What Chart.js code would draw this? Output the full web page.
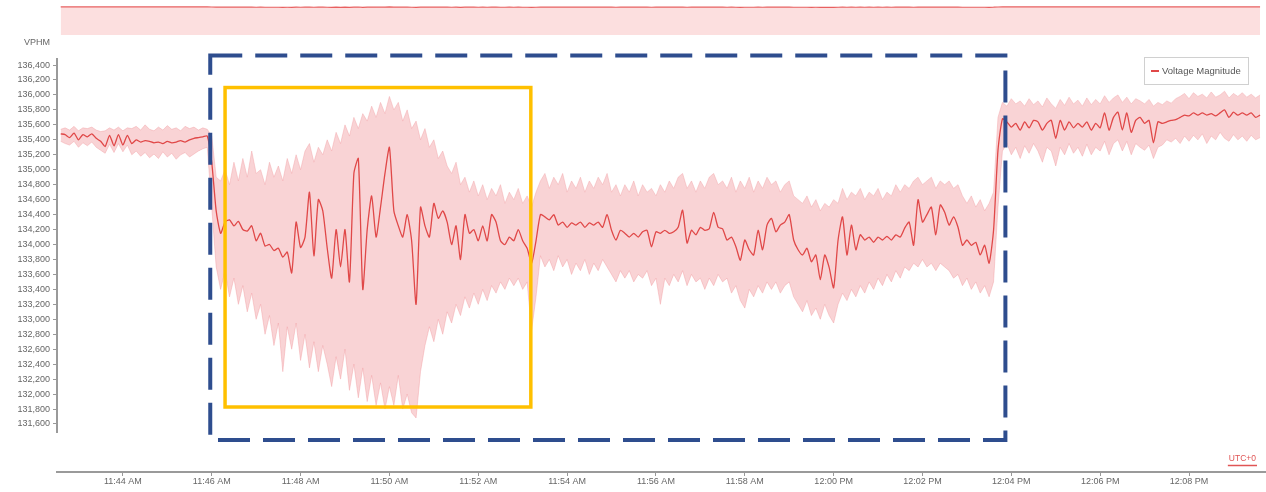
<!DOCTYPE html>
<html><head><meta charset="utf-8">
<script src="https://cdn.jsdelivr.net/npm/chart.js@4.4.1/dist/chart.umd.min.js"></script>
<style>
html,body{margin:0;padding:0;background:#fff;}
#wrap{position:relative;width:1266px;height:492px;overflow:hidden;background:#fff;}
#main{position:absolute;left:0;top:0;}
#nav{position:absolute;left:0;top:0;}
</style></head><body>
<div id="wrap"><canvas id="main" width="1266" height="492"></canvas><canvas id="nav" width="1266" height="42"></canvas></div>
<script>
// ---------- data ----------
const startTime = '11:42:36';
const stepSeconds = 6;
const axisStart = '11:42:31';
const axisEnd = '12:09:44';
const seriesLabel = 'Voltage Magnitude';
const yAxisTitle = 'VPHM';
const timezoneLabel = 'UTC+0';
const yTickValues = [131600,131800,132000,132200,132400,132600,132800,133000,133200,133400,133600,133800,134000,134200,134400,134600,134800,135000,135200,135400,135600,135800,136000,136200,136400];
const yRange = [130958, 136494];
const yAxisLineEnd = 131480;

const voltageMean = [
135480,135470,135430,135490,135400,135470,135440,135480,135420,135380,
135310,135460,135320,135470,135330,135460,135350,135400,135370,135390,
135380,135360,135370,135350,135380,135360,135370,135390,135370,135400,
135420,135430,135440,135450,135100,134450,134150,134300,134330,134250,
134310,134200,134180,134250,134050,134150,133980,134000,133920,133950,
133830,133900,133620,134300,133960,134100,134700,133850,134600,134450,
133950,133550,134200,133700,134200,133500,134950,135150,133400,134200,
134650,134100,134500,134950,135300,134450,134250,134100,134400,134050,
133200,134500,134250,134100,134550,134350,134450,134300,134000,134250,
133800,134400,134150,134200,134050,134250,134050,134400,134300,134050,
134000,134100,134050,134200,134050,133950,133750,134050,134400,134370,
134330,134400,134260,134300,134230,134290,134260,134300,134230,134290,
134260,134300,134230,134400,134190,134060,134190,134150,134100,134150,
134100,134170,134190,133970,134170,134150,134190,134150,134170,134230,
134460,134020,134190,134130,134230,134190,134210,134430,134230,134210,
134060,134100,133970,133790,134060,133930,133860,134190,133930,134260,
134350,134170,134260,134300,134400,134060,133930,133860,133950,133770,
133860,133530,133860,133690,133420,134060,134370,133860,134260,133930,
134130,134060,134100,134030,134100,134060,134110,134060,134130,134100,
134220,134300,133990,134600,134300,134400,134500,134130,134530,134430,
134260,134370,134230,133990,134060,133990,134030,133860,133990,133750,
134190,135260,135680,135640,135570,135620,135530,135640,135560,135660,
135640,135530,135620,135660,135420,135660,135530,135640,135560,135620,
135570,135640,135530,135620,135560,135760,135530,135700,135770,135530,
135760,135500,135660,135700,135620,135660,135360,135640,135620,135640,
135660,135670,135700,135730,135720,135760,135730,135760,135730,135750,
135720,135760,135800,135700,135770,135730,135760,135730,135760,135700,135730
];
const voltageMax = [
135540,135560,135530,135580,135520,135560,135550,135570,135530,135510,
135520,135560,135530,135570,135520,135560,135550,135580,135530,135600,
135540,135520,135570,135530,135590,135540,135560,135520,135580,135550,
135570,135530,135560,135540,135450,134900,134850,135000,134800,135100,
134850,135150,134900,135250,134950,135000,134800,135100,134900,135050,
134850,135150,134950,135200,135000,135250,135350,135100,135300,135200,
135400,135250,135500,135350,135600,135450,135700,135550,135750,135650,
135850,135700,135900,135750,135980,135800,135900,135650,135800,135550,
135650,135400,135550,135300,135400,135150,135250,135050,134950,135100,
134800,134900,134700,134850,134650,134800,134600,134750,134650,134800,
134550,134700,134600,134750,134550,134650,134500,134700,134850,134950,
134750,134900,134800,134950,134700,134850,134750,134900,134700,134850,
134750,134900,134800,134950,134700,134800,134650,134800,134700,134850,
134650,134800,134700,134750,134650,134800,134700,134850,134750,134900,
134950,134750,134850,134700,134850,134750,134900,134950,134800,134850,
134750,134900,134700,134850,134750,134900,134700,134850,134750,134900,
134800,134850,134700,134800,134850,134650,134600,134550,134650,134500,
134600,134450,134550,134500,134600,134550,134750,134600,134700,134650,
134750,134600,134700,134650,134750,134600,134700,134650,134800,134700,
134800,134750,134850,134900,134800,134850,134900,134750,134850,134800,
134850,134750,134800,134650,134550,134650,134500,134600,134450,134550,
134700,135700,135900,135850,135950,135880,135920,135850,135950,135870,
135920,135840,135960,135880,135820,135940,135860,135970,135880,135930,
135850,135960,135870,135940,135880,135990,135900,135960,136000,135900,
135970,135880,135950,135920,135880,135940,135850,135900,135870,135920,
135890,135950,135980,136020,135950,136030,135980,136010,135960,136040,
135970,136000,136050,135960,136020,135980,136030,135970,136010,135960,136000
];
const voltageMin = [
135380,135350,135330,135380,135300,135360,135320,135370,135300,135260,
135220,135340,135230,135350,135240,135330,135200,135250,135180,135230,
135160,135210,135150,135240,135170,135220,135140,135200,135230,135170,
135210,135250,135280,135300,134500,133700,133400,133650,133300,133550,
133200,133450,133100,133350,133000,133200,132800,133050,132650,132950,
132300,132900,132600,132950,132450,132800,132350,132700,132300,132650,
132400,132100,132500,132200,132600,132050,132400,131950,132350,131900,
132250,131850,132150,131800,132100,131850,132250,131800,132000,131750,
131680,132300,132650,132900,132700,133000,132800,133100,132950,133200,
133050,133300,133150,133350,133200,133400,133250,133450,133350,133500,
133400,133550,133450,133550,133400,133500,132850,133300,133850,133700,
133800,133650,133850,133700,133800,133600,133750,133650,133800,133600,
133750,133650,133800,133700,133600,133500,133650,133550,133650,133500,
133600,133550,133650,133450,133550,133200,133550,133450,133600,133500,
133650,133450,133600,133500,133550,133400,133550,133450,133600,133500,
133550,133350,133450,133250,133150,133400,133300,133450,133350,133500,
133400,133500,133350,133450,133500,133300,133200,133100,133250,133050,
133150,133000,133200,133050,132950,133200,133350,133250,133400,133300,
133450,133350,133500,133400,133550,133450,133600,133500,133650,133550,
133700,133650,133750,133700,133800,133700,133750,133650,133750,133700,
133650,133550,133600,133450,133550,133400,133500,133350,133450,133300,
133500,134500,135250,135350,135200,135300,135150,135320,135220,135350,
135250,135100,135300,135250,135050,135300,135200,135350,135220,135300,
135180,135340,135200,135300,135250,135380,135200,135350,135400,135250,
135380,135200,135350,135300,135260,135330,135150,135300,135330,135400,
135370,135420,135350,135450,135380,135460,135400,135480,135350,135450,
135400,135500,135420,135380,135470,135400,135450,135380,135460,135400,135430
];
// highlighted regions (data coordinates)
const blueBox = {from:'11:45:58', to:'12:03:52', top:136527, bottom:131386};
const yellowBox = {from:'11:46:18', to:'11:53:11', top:136099, bottom:131827};

// ---------- helpers ----------
function toMin(s){const p=s.split(':').map(Number);return p[0]*60+p[1]+(p[2]||0)/60;}
function fmtTime(v){const h=Math.floor(v/60+1e-9);const m=Math.round(v-h*60);const ap=h>=12?'PM':'AM';const h12=(h%12)||12;return h12+':'+String(m).padStart(2,'0')+' '+ap;}
const t0=toMin(startTime);
const xMin=toMin(axisStart), xMax=toMin(axisEnd);
const pts=a=>a.map((v,i)=>({x:t0+i*stepSeconds/60,y:v}));
const FONT="'Liberation Sans', Arial, sans-serif";
Chart.defaults.font.family=FONT;
const LINE='#E04848';

const overlay={
  id:'overlay',
  afterDraw(chart){
    const ctx=chart.ctx, ca=chart.chartArea, xs=chart.scales.x, ys=chart.scales.y;
    ctx.save();
    // y axis line
    ctx.strokeStyle='#9a9a9a'; ctx.lineWidth=2;
    ctx.beginPath(); ctx.moveTo(ca.left,ca.top); ctx.lineTo(ca.left,ys.getPixelForValue(yAxisLineEnd)); ctx.stroke();
    // axis title
    ctx.fillStyle='#666'; ctx.font='9px '+FONT; ctx.textAlign='center'; ctx.textBaseline='middle';
    ctx.fillText(yAxisTitle,37,43);
    // legend
    const ds=chart.data.datasets[0];
    const lw=104, lh=27, lx=ca.right-18-lw, ly=57;
    ctx.fillStyle='#fff'; ctx.fillRect(lx,ly,lw,lh);
    ctx.strokeStyle='#d0d0d0'; ctx.lineWidth=1; ctx.strokeRect(lx+0.5,ly+0.5,lw,lh);
    ctx.strokeStyle=ds.borderColor; ctx.lineWidth=2;
    ctx.beginPath(); ctx.moveTo(lx+7,ly+14); ctx.lineTo(lx+15,ly+14); ctx.stroke();
    ctx.fillStyle='#555'; ctx.font='9.5px '+FONT; ctx.textAlign='left'; ctx.textBaseline='middle';
    ctx.fillText(ds.label,lx+18,ly+14);
    // timezone
    ctx.fillStyle='#E05555'; ctx.font='8.5px '+FONT; ctx.textAlign='right';
    ctx.fillText(timezoneLabel,ca.right-10,459);
    const tw=ctx.measureText(timezoneLabel).width;
    ctx.strokeStyle='#E05555'; ctx.lineWidth=1.5;
    ctx.beginPath(); ctx.moveTo(ca.right-10-tw-1,465.5); ctx.lineTo(ca.right-9,465.5); ctx.stroke();
    // highlight boxes
    const box=(b)=>{const x1=xs.getPixelForValue(toMin(b.from)),x2=xs.getPixelForValue(toMin(b.to));const y1=ys.getPixelForValue(b.top),y2=ys.getPixelForValue(b.bottom);return [x1,y1,x2-x1,y2-y1];};
    ctx.strokeStyle='#2E4D8E'; ctx.lineWidth=4; ctx.setLineDash([32,13]);
    ctx.strokeRect(...box(blueBox));
    ctx.setLineDash([]);
    ctx.strokeStyle='#FFC000'; ctx.lineWidth=3.5;
    ctx.strokeRect(...box(yellowBox));
    ctx.restore();
  }
};

new Chart(document.getElementById('main'),{
  type:'line',
  data:{datasets:[
    {label:seriesLabel,data:pts(voltageMean),borderColor:LINE,borderWidth:1.3,pointRadius:0,tension:0.2,fill:false,order:0},
    {label:'max',data:pts(voltageMax),borderColor:'rgba(242,160,165,0.55)',borderWidth:0.8,pointRadius:0,tension:0,fill:'+1',backgroundColor:'rgba(240,140,145,0.38)',order:1},
    {label:'min',data:pts(voltageMin),borderColor:'rgba(242,160,165,0.55)',borderWidth:0.8,pointRadius:0,tension:0,fill:false,order:2}
  ]},
  options:{
    responsive:false,animation:false,devicePixelRatio:1,
    layout:{padding:{top:58,left:0,right:0,bottom:0}},
    plugins:{legend:{display:false},tooltip:{enabled:false}},
    scales:{
      x:{type:'linear',min:xMin,max:xMax,
        ticks:{stepSize:2,includeBounds:false,autoSkip:false,maxRotation:0,color:'#666',font:{size:9},padding:0,callback:v=>fmtTime(v)},
        grid:{drawOnChartArea:false,drawTicks:true,tickLength:4,color:'#999'},
        border:{display:true,color:'#9a9a9a',width:2},
        afterFit:s=>{s.height=20;}},
      y:{type:'linear',min:yRange[0],max:yRange[1],
        afterBuildTicks:s=>{s.ticks=yTickValues.map(v=>({value:v}));},
        ticks:{color:'#666',font:{size:9},padding:3,callback:v=>Number(v).toLocaleString('en-US')},
        grid:{drawOnChartArea:false,drawTicks:true,tickLength:4,color:'#999'},
        border:{display:false},
        afterFit:s=>{s.width=57;}}
    }
  },
  plugins:[overlay]
});

new Chart(document.getElementById('nav'),{
  type:'line',
  data:{datasets:[{data:pts(voltageMean),borderColor:'#E86060',borderWidth:1.2,pointRadius:0,fill:'origin',backgroundColor:'rgba(245,150,150,0.3)'}]},
  options:{responsive:false,animation:false,devicePixelRatio:1,
    layout:{padding:{top:6,left:57,right:0,bottom:7}},
    plugins:{legend:{display:false},tooltip:{enabled:false}},
    scales:{x:{type:'linear',display:false,min:xMin,max:xMax},y:{display:false,min:0,max:140000}}}
});
</script>
</body></html>
